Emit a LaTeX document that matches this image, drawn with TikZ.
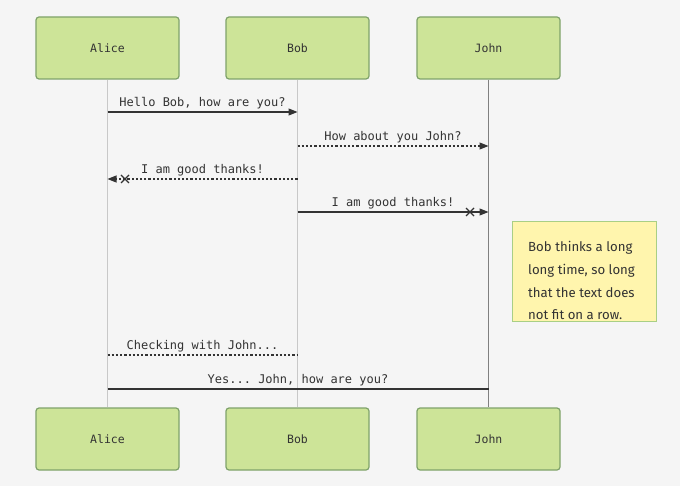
\documentclass[tikz,border=0pt]{standalone}
\usepackage{fontspec}
\setmonofont{DejaVu Sans Mono}
\newfontfamily\notefont{Fira Sans}
\usetikzlibrary{arrows.meta,calc}
\definecolor{bgc}{HTML}{F5F5F5}
\definecolor{actfill}{HTML}{CDE498}
\definecolor{actline}{HTML}{7FA36A}
\definecolor{lifec}{HTML}{C8C8C8}
\definecolor{txtc}{HTML}{333333}
\definecolor{notefill}{HTML}{FFF5AD}
\definecolor{noteline}{HTML}{A9CF85}
\begin{document}
\begin{tikzpicture}[x=1pt,y=-1pt,
  actor/.style={draw=actline,fill=actfill,line width=1.2pt,rounded corners=3pt,
    minimum width=143pt,minimum height=62pt,inner sep=0pt,
    font=\ttfamily\fontsize{11.5}{13}\selectfont,text=txtc},
  lifeline/.style={draw=lifec,line width=0.9pt},
  msg/.style={draw=txtc,line width=1.05pt},
  dotmsg/.style={draw=txtc,line width=1.05pt,dash pattern=on 2.2pt off 2pt},
  tip/.style={-{Triangle[length=9pt,width=7pt]}},
  mlabel/.style={font=\ttfamily\fontsize{12}{14}\selectfont,text=txtc,inner sep=0pt},
  crossmark/.style={draw=txtc,line width=1.2pt},
  notebox/.style={draw=noteline,fill=notefill,line width=1pt,minimum width=144pt,
    minimum height=100pt,inner sep=0pt},
  notetext/.style={font=\notefont\fontsize{13.2}{22.8}\selectfont,text=txtc,align=left,inner sep=0pt,anchor=north west}
]
\path[fill=bgc] (0,0) rectangle (680,486);
\useasboundingbox (0,0) rectangle (680,486);

% actors
\node[actor] (aT) at (107.5,48) {Alice};
\node[actor] (bT) at (297.5,48) {Bob};
\node[actor] (jT) at (488.5,48) {John};
\node[actor] (aB) at (107.5,439) {Alice};
\node[actor] (bB) at (297.5,439) {Bob};
\node[actor] (jB) at (488.5,439) {John};

% lifelines
\draw[lifeline] (aT.south) -- (aB.north);
\draw[lifeline] (bT.south) -- (bB.north);
\draw[lifeline,draw=gray] (jT.south) -- (jB.north);

% message coordinates
\coordinate (m1a) at (aT.south |- 0,112);
\coordinate (m1b) at (bT.south |- 0,112);
\coordinate (m2b) at (bT.south |- 0,146);
\coordinate (m2j) at (jT.south |- 0,146);
\coordinate (m3b) at (bT.south |- 0,179);
\coordinate (m3a) at (aT.south |- 0,179);
\coordinate (x3) at (125,179);
\coordinate (m4b) at (bT.south |- 0,212);
\coordinate (m4j) at (jT.south |- 0,212);
\coordinate (x4) at (470,212);
\coordinate (m6a) at (aT.south |- 0,355);
\coordinate (m6b) at (bT.south |- 0,355);
\coordinate (m7a) at (aT.south |- 0,389);
\coordinate (m7j) at (jT.south |- 0,389);

% messages
\draw[msg,tip] (m1a) -- node[mlabel,above=2pt]{Hello Bob, how are you?} (m1b);
\draw[dotmsg,tip] (m2b) -- node[mlabel,above=2pt]{How about you John?} (m2j);
\draw[dotmsg,tip] (m3b) -- node[mlabel,above=2pt]{I am good thanks!} (m3a);
\draw[crossmark] ($(x3)+(-4,-4)$) -- ($(x3)+(4,4)$) ($(x3)+(-4,4)$) -- ($(x3)+(4,-4)$);
\draw[msg,tip] (m4b) -- node[mlabel,above=2pt]{I am good thanks!} (m4j);
\draw[crossmark] ($(x4)+(-4,-4)$) -- ($(x4)+(4,4)$) ($(x4)+(-4,4)$) -- ($(x4)+(4,-4)$);
\draw[dotmsg] (m6a) -- node[mlabel,above=2pt]{Checking with John...} (m6b);
\draw[msg] (m7a) -- node[mlabel,above=2pt]{Yes... John, how are you?} (m7j);

% note
\node[notebox] (note) at (584,272) {};
\node[notetext] (notetxt) at (528,241) {Bob thinks a long\\long time, so long\\that the text does\\not fit on a row.};
\end{tikzpicture}
\end{document}
